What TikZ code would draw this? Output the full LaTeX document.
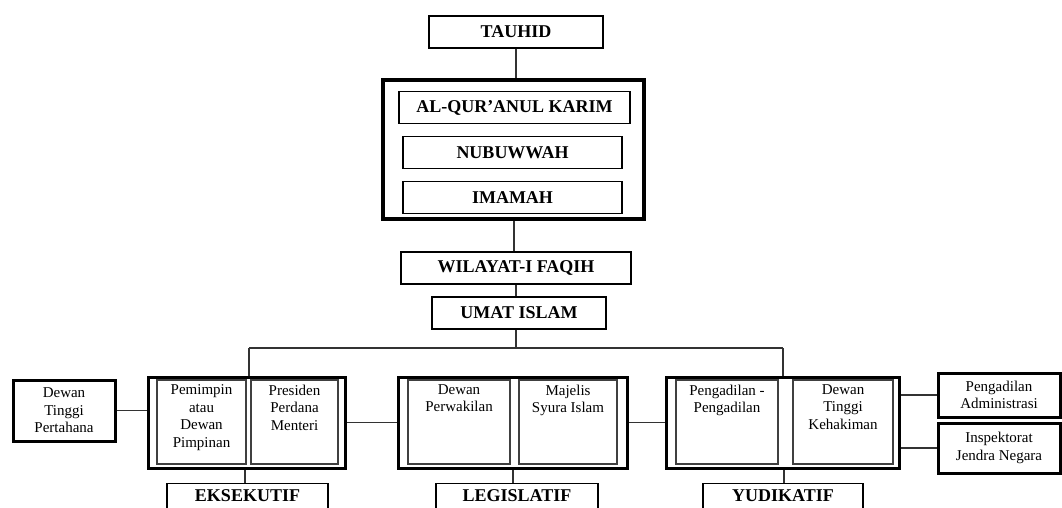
\documentclass[tikz,border=0pt]{standalone}
\usepackage{fontspec}
\setmainfont{Liberation Serif}
\newcommand\headfont{\fontsize{18}{20}\selectfont\bfseries}
\newcommand\bodyfont{\fontsize{15}{17.5}\selectfont}
\begin{document}
\begin{tikzpicture}[x=1pt,y=-1pt,
    headbox/.style={draw,line width=1.2pt,inner sep=0pt,minimum height=32pt,font=\headfont},
    basebox/.style={draw,line width=1.2pt,inner sep=0pt,minimum height=50pt,anchor=north,
      label={[anchor=base,font=\headfont,yshift=-18pt]north:#1}},
    groupbox/.style={draw,line width=3pt,inner sep=0pt,minimum height=91pt},
    innerbox/.style={draw=black!75,line width=1.2pt,inner sep=0pt,minimum height=84pt},
    sidebox/.style={draw,line width=3pt,inner sep=0pt,align=center,font=\bodyfont},
    toptext/.style={anchor=north,align=center,font=\bodyfont,inner sep=5pt},
    link/.style={line width=1.2pt,black!80}]
    \useasboundingbox (0,0) rectangle (1062,507);
    \clip (0,0) rectangle (1062,507);

    \node[headbox,minimum width=174pt] (tauhid) at (516,32) {TAUHID};
    \node[draw,line width=3.5pt,minimum width=261pt,minimum height=139pt] (big) at (513.5,149.5) {};
    \node[headbox,minimum width=231pt] (quran) at (514.5,107.5) {AL-QUR'ANUL KARIM};
    \node[headbox,minimum width=219pt] (nubuwwah) at (512.5,152.5) {NUBUWWAH};
    \node[headbox,minimum width=219pt] (imamah) at (512.5,197.5) {IMAMAH};
    \node[headbox,minimum width=230pt] (wilayat) at (516,268) {WILAYAT-I FAQIH};
    \node[headbox,minimum width=174pt] (umat) at (519,313) {UMAT ISLAM};

    \coordinate (busl) at (249,348);
    \coordinate (busr) at (783,348);

    % eksekutif
    \node[sidebox,minimum width=102pt,minimum height=61pt] (dtp) at (64,410.5) {Dewan\\Tinggi\\Pertahana};
    \node[groupbox,minimum width=197pt] (eksgrp) at (246.5,422.5) {};
    \node[innerbox,minimum width=89pt,
      label={[toptext]north:Pemimpin\\atau\\Dewan\\Pimpinan}] (eks1) at (201.5,422) {};
    \node[innerbox,minimum width=87pt,
      label={[toptext]north:Presiden\\Perdana\\Menteri}] (eks2) at (294.5,422) {};
    \node[basebox=EKSEKUTIF,minimum width=161pt] (eksekutif) at (247.5,483) {};

    % legislatif
    \node[groupbox,minimum width=229pt] (leggrp) at (512.5,422.5) {};
    \node[innerbox,minimum width=102pt,
      label={[toptext]north:Dewan\\Perwakilan}] (leg1) at (459,422) {};
    \node[innerbox,minimum width=98pt,
      label={[toptext]north:Majelis\\Syura Islam}] (leg2) at (568,422) {};
    \node[basebox=LEGISLATIF,minimum width=162pt] (legislatif) at (517,483) {};

    % yudikatif
    \node[groupbox,minimum width=233pt] (yudgrp) at (782.5,422.5) {};
    \node[innerbox,minimum width=102pt,
      label={[toptext]north:Pengadilan -\\Pengadilan}] (yud1) at (727,422) {};
    \node[innerbox,minimum width=100pt,
      label={[toptext]north:Dewan\\Tinggi\\Kehakiman}] (yud2) at (843,422) {};
    \node[basebox=YUDIKATIF,minimum width=160pt] (yudikatif) at (783,483) {};
    \node[sidebox,minimum width=122pt,minimum height=44pt] (padm) at (999,395) {Pengadilan\\Administrasi};
    \node[sidebox,minimum width=122pt,minimum height=50pt] (insp) at (999,448) {Inspektorat\\Jendra Negara};

    \begin{scope}[link]
        \draw (tauhid.south) -- (tauhid.south |- big.north);
        \draw (wilayat.north -| 514,0) -- (big.south -| 514,0);
        \draw (wilayat.south -| 516,0) -- (umat.north -| 516,0);
        \draw (umat.south -| 516,0) -- (busl -| 516,0);
        \draw (busl) -- (busr);
        \draw (busl) -- (busl |- eksgrp.north);
        \draw (busr) -- (busr |- yudgrp.north);
        \draw (dtp.east) -- (dtp.east -| eksgrp.west);
        \draw (eksgrp.east) -- (leggrp.west);
        \draw (leggrp.east) -- (yudgrp.west);
        \draw (padm.west) -- (padm.west -| yudgrp.east);
        \draw (insp.west) -- (insp.west -| yudgrp.east);
        \draw (eksekutif.north -| 245,0) -- (eksgrp.south -| 245,0);
        \draw (legislatif.north -| 513,0) -- (leggrp.south -| 513,0);
        \draw (yudikatif.north -| 784,0) -- (yudgrp.south -| 784,0);
    \end{scope}
\end{tikzpicture}
\end{document}
